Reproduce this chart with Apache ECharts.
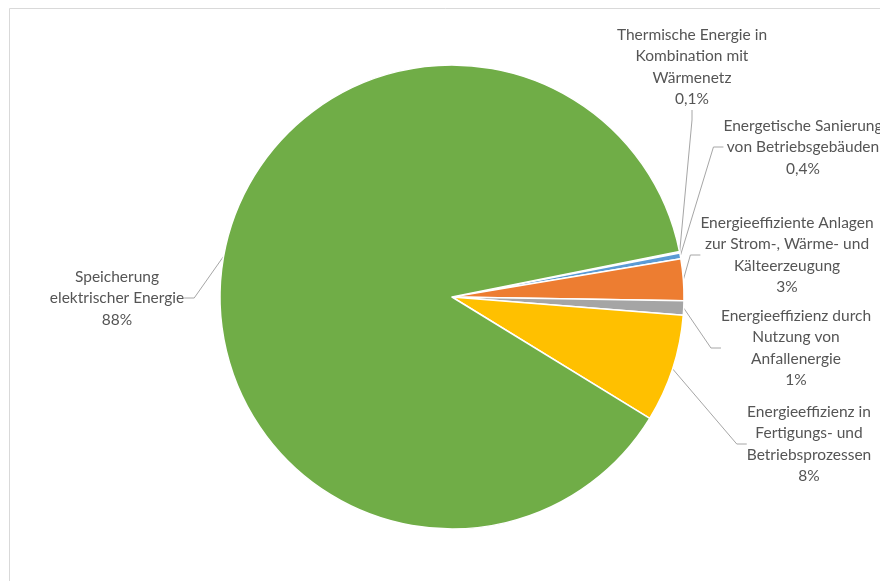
<!DOCTYPE html>
<html><head><meta charset="utf-8">
<script src="https://cdn.jsdelivr.net/npm/echarts@6/dist/echarts.min.js"></script>
<style>html,body{margin:0;padding:0;background:#fff}#c{width:880px;height:581px}</style>
</head><body><div id="c"></div>
<script>
const categories = [
  'Thermische Energie in\nKombination mit\nWärmenetz',
  'Energetische Sanierung\nvon Betriebsgebäuden',
  'Energieeffiziente Anlagen\nzur Strom-, Wärme- und\nKälteerzeugung',
  'Energieeffizienz durch\nNutzung von\nAnfallenergie',
  'Energieeffizienz in\nFertigungs- und\nBetriebsprozessen',
  'Speicherung\nelektrischer Energie'
];
const values = [0.1, 0.4, 2.9, 1.0, 7.5, 88.1];
const percentLabels = ['0,1%', '0,4%', '3%', '1%', '8%', '88%'];
const colors = ['#4472C4', '#5B9BD5', '#ED7D31', '#A5A5A5', '#FFC000', '#70AD47'];
// label block centres (layout only)
const labelPos = [[692, 67], [803, 147], [787, 255], [796, 348], [809, 444], [117, 298]];

const chart = echarts.init(document.getElementById('c'), null, {renderer: 'canvas'});
chart.setOption({
  backgroundColor: '#fff',
  animation: false,
  graphic: [{
    type: 'rect', shape: {x: 9.5, y: 8.5, width: 900, height: 600},
    style: {fill: 'none', stroke: '#d9d9d9', lineWidth: 1}, silent: true, z: 0
  }],
  series: [{
    type: 'pie',
    center: [452, 297],
    radius: [0, 232],
    startAngle: 11.3,
    clockwise: true,
    avoidLabelOverlap: false,
    itemStyle: {borderColor: '#fff', borderWidth: 1.5},
    label: {
      show: true,
      formatter: p => p.name + '\n' + percentLabels[p.dataIndex],
      fontFamily: 'Lato',
      fontSize: 15.5,
      lineHeight: 21.5,
      color: '#555555',
      align: 'center'
    },
    labelLine: {show: true, length: 10, length2: 10, lineStyle: {color: '#a6a6a6', width: 1}},
    labelLayout: function (params) {
      const i = params.dataIndex;
      return {
        x: labelPos[i][0], y: labelPos[i][1],
        align: 'center', verticalAlign: 'middle'
      };
    },
    data: values.map((v, i) => ({
      value: v, name: categories[i], itemStyle: {color: colors[i]}
    }))
  }]
});
</script></body></html>
